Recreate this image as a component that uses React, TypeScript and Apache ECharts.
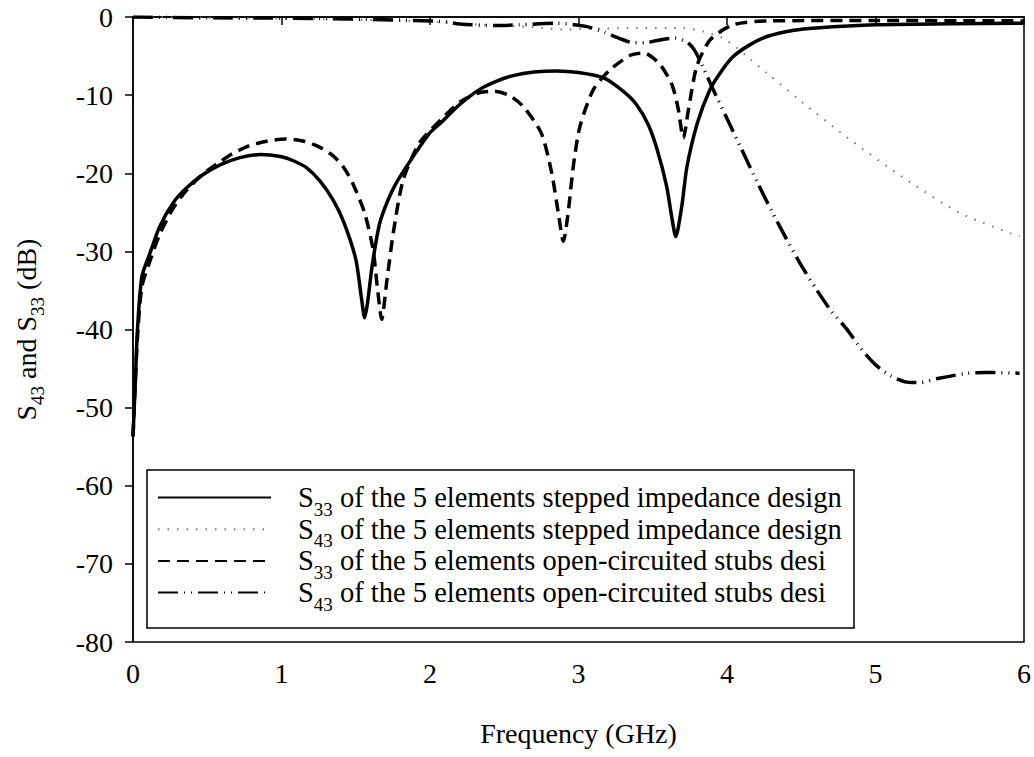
import React, { useEffect, useRef } from "react";
import * as echarts from "echarts";

// S33 of the 5 elements stepped impedance design (solid)
const s33StepFreq = [0, 0.015, 0.03, 0.06, 0.115, 0.18, 0.27, 0.36, 0.47, 0.59, 0.72, 0.86, 1.0, 1.08, 1.17, 1.26, 1.35, 1.42, 1.5, 1.54, 1.56, 1.58, 1.61, 1.66, 1.72, 1.78, 1.91, 2.0, 2.07, 2.2, 2.34, 2.45, 2.56, 2.7, 2.85, 3.0, 3.17, 3.3, 3.39, 3.47, 3.53, 3.594, 3.627, 3.655, 3.695, 3.73, 3.8, 3.885, 3.96, 4.04, 4.15, 4.27, 4.45, 4.6, 5.0, 5.5, 6.0];
const s33StepDb = [-53.7, -47, -40, -33.2, -30.2, -26.8, -23.8, -21.9, -20.2, -18.9, -18.0, -17.6, -17.9, -18.4, -19.3, -21, -23.5, -26.3, -31, -36.2, -38.5, -36.5, -31.9, -26.5, -23.3, -21.0, -17.2, -14.8, -13.6, -11.2, -9.2, -8.2, -7.5, -7.05, -6.9, -7.1, -7.8, -9.5, -11.2, -13.8, -17, -21.7, -25.5, -28.1, -24.3, -19.2, -13.6, -9.3, -7.0, -5.1, -3.6, -2.5, -1.7, -1.4, -1.0, -0.85, -0.8];

// S43 of the 5 elements stepped impedance design (grey dotted)
const s43StepFreq = [0, 0.5, 1.0, 1.5, 2.0, 2.35, 2.7, 2.9, 3.1, 3.4, 3.7, 3.85, 3.97, 4.07, 4.13, 4.27, 4.5, 4.8, 5.19, 5.57, 5.97];
const s43StepDb = [0, -0.1, -0.2, -0.35, -0.6, -1.0, -1.3, -1.6, -1.5, -1.4, -1.4, -1.9, -2.7, -4.0, -5.0, -7.2, -10.8, -15.3, -20.6, -25.1, -28.1];

// S33 of the 5 elements open-circuited stubs design (dashed)
const s33StubFreq = [0, 0.015, 0.03, 0.06, 0.115, 0.18, 0.27, 0.36, 0.47, 0.59, 0.66, 0.78, 0.9, 1.03, 1.15, 1.25, 1.35, 1.42, 1.48, 1.56, 1.617, 1.645, 1.675, 1.708, 1.753, 1.82, 1.93, 2.07, 2.2, 2.33, 2.43, 2.53, 2.63, 2.75, 2.82, 2.864, 2.898, 2.93, 2.965, 3.01, 3.1, 3.21, 3.35, 3.44, 3.55, 3.63, 3.67, 3.706, 3.74, 3.796, 3.886, 4.04, 4.27, 5.0, 6.0];
const s33StubDb = [-53.7, -47, -41, -34.5, -31.2, -27.8, -24.5, -22.2, -20.1, -18.5, -17.6, -16.5, -15.9, -15.6, -15.9, -16.6, -17.8, -19.3, -21.3, -25.1, -29.8, -34.5, -38.7, -34, -27.6, -20.8, -16.1, -13.2, -10.9, -9.7, -9.5, -10.0, -11.5, -14.9, -20, -25.1, -28.7, -25.1, -19.1, -14, -9.3, -6.8, -4.9, -4.6, -6.1, -8.7, -11.6, -15.5, -11.9, -6.35, -2.94, -1.0, -0.5, -0.45, -0.5];

// S43 of the 5 elements open-circuited stubs design (dash-dot-dot)
const s43StubFreq = [0, 0.5, 1.0, 1.45, 1.8, 2.1, 2.2, 2.45, 2.6, 2.85, 3.05, 3.18, 3.27, 3.37, 3.45, 3.53, 3.65, 3.73, 3.78, 3.84, 3.9, 4.0, 4.1, 4.2, 4.3, 4.4, 4.5, 4.6, 4.7, 4.8, 4.9, 5.0, 5.1, 5.2, 5.3, 5.41, 5.62, 5.75, 5.97];
const s43StubDb = [0, -0.1, -0.15, -0.25, -0.4, -0.6, -0.9, -1.1, -1.0, -0.8, -1.2, -2.0, -2.7, -3.3, -3.3, -3.0, -2.7, -3.2, -4.2, -6.5, -9.0, -13.0, -17.0, -21.0, -24.8, -28.4, -31.8, -34.8, -37.6, -39.8, -42.4, -44.5, -45.9, -46.7, -46.8, -46.3, -45.6, -45.5, -45.6];

const seriesNames = [
  "S33 of the 5 elements stepped impedance design",
  "S43 of the 5 elements stepped impedance design",
  "S33 of the 5 elements open-circuited stubs desi",
  "S43 of the 5 elements open-circuited stubs desi",
];

const xMin = 0;
const xMax = 6;
const xInterval = 1;
const yMin = -80;
const yMax = 0;
const yInterval = 10;

const FONT = "Liberation Serif";

function zip(f: number[], d: number[]) {
  return f.map((v, i) => [v, d[i]]);
}

export default function App() {
  const ref = useRef<HTMLDivElement>(null);
  useEffect(() => {
    const chart = echarts.init(ref.current!, null, { renderer: "svg" });
    const subRich = {
      sub: { fontSize: 19, fontFamily: FONT, color: "#000", verticalAlign: "top", lineHeight: 10, padding: [16, 0, 0, 0] },
    };
    chart.setOption({
      animation: false,
      backgroundColor: "#fff",
      grid: { left: 133, right: 10, top: 17, bottom: 115, show: true, borderColor: "#000", borderWidth: 1.5 },
      xAxis: {
        type: "value",
        min: xMin,
        max: xMax,
        interval: xInterval,
        name: "Frequency (GHz)",
        nameLocation: "middle",
        nameGap: 77,
        nameTextStyle: { fontFamily: FONT, fontSize: 28, color: "#000" },
        axisLine: { lineStyle: { color: "#000", width: 1.5 } },
        axisTick: { inside: false, length: 8, lineStyle: { color: "#000", width: 1.5 } },
        axisLabel: { fontFamily: FONT, fontSize: 28, color: "#000", margin: 17 },
        splitLine: { show: false },
      },
      yAxis: {
        type: "value",
        min: yMin,
        max: yMax,
        interval: yInterval,
        name: "S{sub|43} and S{sub|33} (dB)",
        nameLocation: "middle",
        nameGap: 93,
        nameRotate: 90,
        nameTextStyle: { fontFamily: FONT, fontSize: 28, color: "#000", lineHeight: 28, rich: subRich },
        axisLine: { lineStyle: { color: "#000", width: 1.5 } },
        axisTick: { inside: false, length: 8, lineStyle: { color: "#000", width: 1.5 } },
        axisLabel: { fontFamily: FONT, fontSize: 28, color: "#000", margin: 20 },
        splitLine: { show: false },
      },
      legend: {
        orient: "vertical",
        left: 157,
        top: 483,
        padding: 0,
        itemGap: -3.8,
        itemWidth: 113,
        itemHeight: 14,
        selectedMode: false,
        itemStyle: { opacity: 0 },
        formatter: (name: string) => name.replace(/^S(\d\d)/, "S{sub|$1}"),
        textStyle: { fontFamily: FONT, fontSize: 28.5, color: "#000", lineHeight: 28, padding: [0, 0, 0, 22], rich: subRich },
        data: seriesNames,
      },
      graphic: [
        {
          type: "rect",
          shape: { x: 147, y: 470, width: 707, height: 158 },
          style: { fill: "none", stroke: "#000", lineWidth: 1.5 },
          z: 10,
        },
      ],
      series: [
        {
          name: seriesNames[0],
          type: "line",
          data: zip(s33StepFreq, s33StepDb),
          symbol: "none",
          smooth: 0.25,
          lineStyle: { color: "#000", width: 3.5, type: "solid" },
          itemStyle: { color: "#000" },
          z: 4,
        },
        {
          name: seriesNames[1],
          type: "line",
          data: zip(s43StepFreq, s43StepDb),
          symbol: "none",
          smooth: 0.25,
          lineStyle: { color: "#777", width: 2, type: [1.5, 8] },
          itemStyle: { color: "#777" },
          z: 2,
        },
        {
          name: seriesNames[2],
          type: "line",
          data: zip(s33StubFreq, s33StubDb),
          symbol: "none",
          smooth: 0.25,
          lineStyle: { color: "#000", width: 3.5, type: [12, 7] },
          itemStyle: { color: "#000" },
          z: 3,
        },
        {
          name: seriesNames[3],
          type: "line",
          data: zip(s43StubFreq, s43StubDb),
          symbol: "none",
          smooth: 0.25,
          lineStyle: { color: "#000", width: 3.5, type: [20, 6, 1, 6, 1, 6] },
          itemStyle: { color: "#000" },
          z: 3,
        },
      ],
    });
    return () => chart.dispose();
  }, []);
  return <div ref={ref} style={{ position: "fixed", left: 0, top: 0, width: 1034, height: 757 }} />;
}
